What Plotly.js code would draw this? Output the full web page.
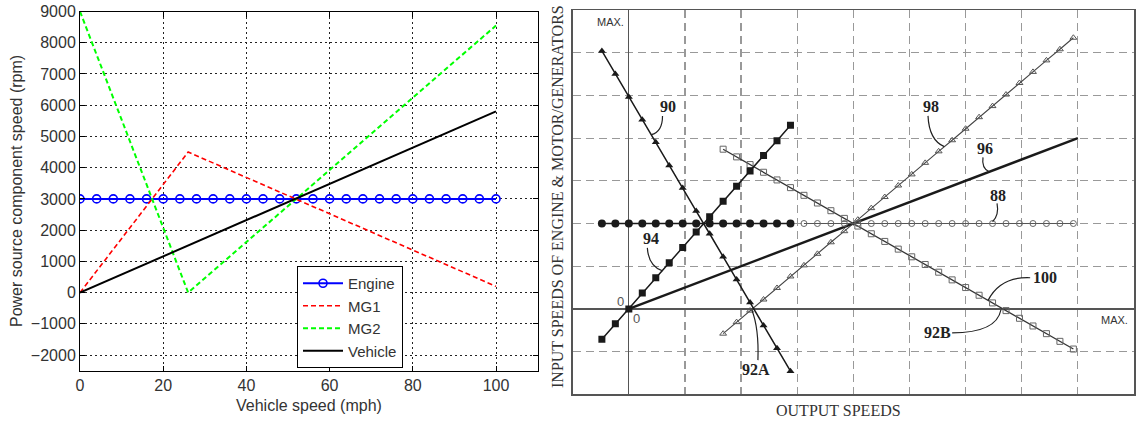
<!DOCTYPE html>
<html>
<head>
<meta charset="utf-8">
<script src="https://cdn.plot.ly/plotly-3.0.1.min.js"></script>
<style>html,body{margin:0;padding:0;background:#fff}#chart{width:1139px;height:423px}</style>
</head>
<body>
<div id="chart"></div>
<script>
// ---------- Left panel data (Vehicle speed vs component speed) ----------
const engineSpeedMph = [0,4,8,12,16,20,24,28,32,36,40,44,48,52,56,60,64,68,72,76,80,84,88,92,96,100];
const engineRpm      = [3000,3000,3000,3000,3000,3000,3000,3000,3000,3000,3000,3000,3000,3000,3000,3000,3000,3000,3000,3000,3000,3000,3000,3000,3000,3000];
const mg1Mph = [0, 26, 100];
const mg1Rpm = [0, 4500, 200];
const mg2Mph = [0, 26, 100];
const mg2Rpm = [9000, 0, 8550];
const vehicleMph = [0, 100];
const vehicleRpm = [0, 5800];
const leftXTicks = [0,20,40,60,80,100];
const leftYTicks = [-2000,-1000,0,1000,2000,3000,4000,5000,6000,7000,8000,9000];

// ---------- Right panel data (patent figure, grid units) ----------
const line90X = [-0.48,-0.24,0,0.24,0.48,0.72,0.96,1.2,1.44,1.68,1.92,2.16,2.4,2.64,2.88];
const line90Y = [6.04,5.5,4.96,4.43,3.9,3.36,2.83,2.29,1.76,1.22,0.69,0.15,-0.39,-0.92,-1.46];
const line94X = [-0.48,-0.24,0,0.24,0.48,0.72,0.96,1.2,1.44,1.68,1.92,2.16,2.4,2.64,2.88];
const line94Y = [-0.71,-0.35,0,0.37,0.73,1.08,1.44,1.8,2.16,2.52,2.87,3.23,3.59,3.94,4.3];
const engFilledX = [-0.48,-0.24,0,0.24,0.48,0.72,0.96,1.2,1.44,1.68,1.92,2.16,2.4,2.64,2.88];
const engFilledY = [2,2,2,2,2,2,2,2,2,2,2,2,2,2,2];
const engOpenX = [3.12,3.36,3.6,3.84,4.08,4.32,4.56,4.8,5.04,5.28,5.52,5.76,6.0,6.24,6.48,6.72,6.96,7.2,7.44,7.68,7.92];
const engOpenY = [2,2,2,2,2,2,2,2,2,2,2,2,2,2,2,2,2,2,2,2,2];
const line96X = [0, 8];
const line96Y = [0, 4];
const line98X = [1.68,1.92,2.16,2.4,2.64,2.88,3.12,3.36,3.6,3.84,4.08,4.32,4.56,4.8,5.04,5.28,5.52,5.76,6.0,6.24,6.48,6.72,6.96,7.2,7.44,7.68,7.92];
const line98Y = [-0.58,-0.31,-0.04,0.22,0.49,0.76,1.02,1.29,1.56,1.82,2.09,2.36,2.62,2.89,3.15,3.42,3.69,3.95,4.22,4.49,4.75,5.02,5.29,5.55,5.82,6.08,6.35];
const line100X = [1.68,1.92,2.16,2.4,2.64,2.88,3.12,3.36,3.6,3.84,4.08,4.32,4.56,4.8,5.04,5.28,5.52,5.76,6.0,6.24,6.48,6.72,6.96,7.2,7.44,7.68,7.92];
const line100Y = [3.74,3.56,3.38,3.2,3.02,2.84,2.66,2.48,2.3,2.12,1.94,1.76,1.58,1.4,1.22,1.04,0.86,0.68,0.5,0.32,0.14,-0.04,-0.22,-0.4,-0.58,-0.76,-0.94];

// callout reference numerals and leader curves (start, control, end) in grid units
const calloutText = ['90','98','96','88','94','92A','100','92B'];
const calloutX    = [0.69, 5.38, 6.34, 6.57, 0.39, 2.26, 7.42, 5.5];
const calloutY    = [4.75, 4.75, 3.76, 2.66, 1.66, -1.42, 0.73, -0.56];
const leaderStart = [[0.6,4.52],[5.33,4.52],[6.31,3.55],[6.56,2.47],[0.33,1.43],[2.3,-1.2],[7.15,0.73],[5.76,-0.56]];
const leaderCtrl  = [[0.6,4.15],[5.35,3.95],[6.28,3.3],[6.6,2.2],[0.35,1.0],[2.32,-0.45],[6.62,0.76],[6.55,-0.56]];
const leaderEnd   = [[0.4,4.08],[5.62,3.8],[6.42,3.21],[6.48,2.04],[0.6,0.89],[2.19,-0.02],[6.4,0.2],[6.63,-0.02]];

const INK = '#1a1a1a';
const traces = [
  {x: engineSpeedMph, y: engineRpm, name: 'Engine', type: 'scatter', mode: 'lines+markers',
   line: {color: '#0000ff', width: 2}, marker: {symbol: 'circle-open', size: 8, color: '#0000ff', line: {width: 1.6, color: '#0000ff'}},
   xaxis: 'x', yaxis: 'y'},
  {x: mg1Mph, y: mg1Rpm, name: 'MG1', type: 'scatter', mode: 'lines',
   line: {color: '#ff0000', width: 1.6, dash: '5px,3px'}, xaxis: 'x', yaxis: 'y'},
  {x: mg2Mph, y: mg2Rpm, name: 'MG2', type: 'scatter', mode: 'lines',
   line: {color: '#00ff00', width: 2, dash: '5px,3px'}, xaxis: 'x', yaxis: 'y'},
  {x: vehicleMph, y: vehicleRpm, name: 'Vehicle', type: 'scatter', mode: 'lines',
   line: {color: '#000000', width: 2}, xaxis: 'x', yaxis: 'y'},

  {x: line96X, y: line96Y, type: 'scatter', mode: 'lines', showlegend: false,
   line: {color: INK, width: 2.4}, xaxis: 'x2', yaxis: 'y2'},
  {x: line98X, y: line98Y, type: 'scatter', mode: 'lines+markers', showlegend: false,
   line: {color: '#444', width: 1.1}, marker: {symbol: 'triangle-up-open', size: 6, color: '#555', line: {width: 1, color: '#555'}},
   xaxis: 'x2', yaxis: 'y2'},
  {x: line100X, y: line100Y, type: 'scatter', mode: 'lines+markers', showlegend: false,
   line: {color: '#333', width: 1.3}, marker: {symbol: 'square-open', size: 6, color: '#666', line: {width: 1, color: '#666'}},
   xaxis: 'x2', yaxis: 'y2'},
  {x: engOpenX, y: engOpenY, type: 'scatter', mode: 'lines+markers', showlegend: false,
   line: {color: '#555', width: 1}, marker: {symbol: 'circle-open', size: 6, color: '#666', line: {width: 1, color: '#666'}},
   xaxis: 'x2', yaxis: 'y2'},
  {x: engFilledX, y: engFilledY, type: 'scatter', mode: 'lines+markers', showlegend: false,
   line: {color: INK, width: 1.5}, marker: {symbol: 'circle', size: 8, color: INK},
   xaxis: 'x2', yaxis: 'y2'},
  {x: line94X, y: line94Y, type: 'scatter', mode: 'lines+markers', showlegend: false,
   line: {color: INK, width: 1.5}, marker: {symbol: 'square', size: 7, color: INK},
   xaxis: 'x2', yaxis: 'y2'},
  {x: line90X, y: line90Y, type: 'scatter', mode: 'lines+markers', showlegend: false,
   line: {color: INK, width: 1.5}, marker: {symbol: 'triangle-up', size: 7, color: INK},
   xaxis: 'x2', yaxis: 'y2'}
];

const W = 1139, H = 423;
const px = v => v / W;
const py = v => (H - v) / H;

const shapes = calloutText.map((t, i) => ({
  type: 'path', xref: 'x2', yref: 'y2',
  path: 'M' + leaderStart[i][0] + ',' + leaderStart[i][1] + ' Q' + leaderCtrl[i][0] + ',' + leaderCtrl[i][1] + ' ' + leaderEnd[i][0] + ',' + leaderEnd[i][1],
  line: {color: '#222', width: 1.2}
}));

const serif = 'Liberation Serif, DejaVu Serif, serif';
const sans = 'Liberation Sans, Arial, sans-serif';
const C = {xanchor: 'center', yanchor: 'middle', showarrow: false};
const annotations = calloutText.map((t, i) => Object.assign({
  xref: 'x2', yref: 'y2', x: calloutX[i], y: calloutY[i], text: t,
  font: {family: serif, size: 16, color: '#222', weight: 'bold'}
}, C));
annotations.push(
  Object.assign({xref: 'x2', yref: 'y2', x: -0.33, y: 6.72, text: 'MAX.', font: {family: sans, size: 11, color: '#333'}}, C),
  Object.assign({xref: 'x2', yref: 'y2', x: 8.65, y: -0.27, text: 'MAX.', font: {family: sans, size: 11, color: '#333'}}, C),
  Object.assign({xref: 'x2', yref: 'y2', x: -0.15, y: 0.17, text: '0', font: {family: sans, size: 13, color: '#555'}}, C),
  Object.assign({xref: 'x2', yref: 'y2', x: 0.14, y: -0.23, text: '0', font: {family: sans, size: 13, color: '#555'}}, C),
  Object.assign({xref: 'paper', yref: 'paper', x: px(557), y: py(197), text: 'INPUT SPEEDS OF ENGINE &amp; MOTOR/GENERATORS', textangle: -90,
   font: {family: serif, size: 16, color: '#333'}}, C),
  Object.assign({xref: 'paper', yref: 'paper', x: px(838), y: py(410), text: 'OUTPUT SPEEDS',
   font: {family: serif, size: 16, color: '#333'}}, C),
  Object.assign({xref: 'paper', yref: 'paper', x: px(16), y: py(191), text: 'Power source component speed (rpm)', textangle: -90,
   font: {family: sans, size: 16, color: '#333'}}, C),
  Object.assign({xref: 'paper', yref: 'paper', x: px(309), y: py(405), text: 'Vehicle speed (mph)',
   font: {family: sans, size: 16, color: '#333'}}, C)
);

const layout = {
  width: W, height: H,
  margin: {l: 0, r: 0, t: 0, b: 0, pad: 0},
  paper_bgcolor: '#ffffff', plot_bgcolor: '#ffffff',
  font: {family: sans, size: 16, color: '#333'},
  showlegend: true,
  legend: {x: px(297), y: py(266), xanchor: 'left', yanchor: 'top', bgcolor: '#ffffff', bordercolor: '#000', borderwidth: 1,
           font: {size: 15, color: '#333'}, tracegroupgap: 0, itemwidth: 40},
  xaxis: {domain: [px(80), px(537.6)], range: [0, 110], tickvals: leftXTicks, ticks: 'inside', ticklen: 5, tickcolor: '#000',
          showline: true, linecolor: '#000', linewidth: 1, mirror: 'ticks', zeroline: false,
          showgrid: true, gridcolor: '#222', gridwidth: 1, griddash: '2px,3px', anchor: 'y', automargin: false,
          tickfont: {size: 16, color: '#333'}},
  yaxis: {domain: [py(370.7), py(11.5)], range: [-2500, 9000], tickvals: leftYTicks, ticks: 'inside', ticklen: 5, tickcolor: '#000',
          showline: true, linecolor: '#000', linewidth: 1, mirror: 'ticks', zeroline: false,
          showgrid: true, gridcolor: '#222', gridwidth: 1, griddash: '2px,3px', anchor: 'x', automargin: false,
          tickfont: {size: 16, color: '#333'}},
  xaxis2: {domain: [px(572.7), px(1134)], range: [-1, 9], dtick: 1, tick0: 0, showticklabels: false, ticks: '',
           showline: true, linecolor: '#555', linewidth: 1.5, mirror: true,
           zeroline: true, zerolinecolor: '#555', zerolinewidth: 1.3,
           showgrid: true, gridcolor: '#999', gridwidth: 1.2, griddash: '8px,5px', anchor: 'y2', automargin: false},
  yaxis2: {domain: [py(394.3), py(10)], range: [-2, 7], dtick: 1, tick0: 0, showticklabels: false, ticks: '',
           showline: true, linecolor: '#555', linewidth: 1.5, mirror: true,
           zeroline: true, zerolinecolor: '#555', zerolinewidth: 1.3,
           showgrid: true, gridcolor: '#999', gridwidth: 1.2, griddash: '8px,5px', anchor: 'x2', automargin: false},
  shapes: shapes,
  annotations: annotations
};

Plotly.newPlot('chart', traces, layout, {displayModeBar: false, staticPlot: true});
</script>
</body>
</html>
